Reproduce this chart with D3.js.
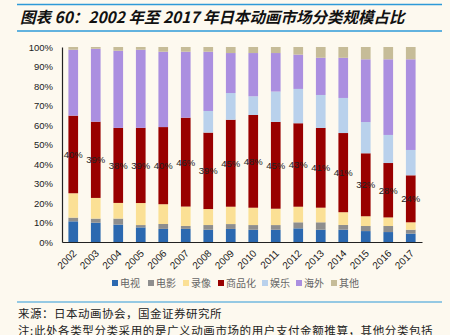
<!DOCTYPE html>
<html><head><meta charset="utf-8">
<script src="https://cdn.jsdelivr.net/npm/d3@7"></script>
<style>
html,body{margin:0;padding:0;background:#FDF9EF;}
svg{display:block;}
</style></head>
<body>
<script>
const years = ["2002","2003","2004","2005","2006","2007","2008","2009","2010","2011","2012","2013","2014","2015","2016","2017"];
const seriesNames = ["电视","电影","录像","商品化","娱乐","海外","其他"];
const tv       = [10.6, 9.9, 8.9, 7.5, 6.7, 6.7, 6.3, 6.7, 6.3, 6.3, 7.0, 6.3, 6.3, 5.6, 5.1, 4.3];
const film     = [1.9, 2.1, 3.1, 1.2, 2.5, 1.5, 2.4, 2.5, 2.4, 2.4, 3.1, 3.8, 2.4, 2.6, 3.1, 2.0];
const video    = [12.5, 10.6, 8.0, 11.3, 10.1, 9.9, 8.2, 8.9, 8.9, 8.4, 8.0, 7.5, 6.5, 5.0, 4.4, 3.8];
const merch    = [39.8, 39.1, 38.4, 38.6, 39.4, 45.4, 39.2, 44.6, 47.6, 44.6, 42.8, 40.9, 40.4, 32.3, 27.9, 24.1];
const ent      = [0, 0, 0, 0, 0, 0, 11.1, 13.7, 9.6, 15.6, 17.6, 16.9, 17.9, 16.0, 14.4, 13.0];
const overseas = [33.8, 37.4, 39.5, 40.1, 38.5, 33.7, 30.4, 20.5, 22.2, 19.8, 17.6, 19.1, 20.5, 32.2, 38.8, 46.5];
const other    = [1.4, 0.9, 1.9, 1.4, 2.4, 2.4, 2.4, 3.1, 3.1, 3.1, 3.9, 5.5, 5.5, 6.3, 6.3, 6.3];
const yTicks = [0,0.1,0.2,0.3,0.4,0.5,0.6,0.7,0.8,0.9,1];
const colors = ["#2C69B0","#8E8E8E","#FBE095","#990000","#B9D1EC","#AB8FE0","#C6BC98"];
const titleText = "图表 60：2002 年至 2017 年日本动画市场分类规模占比";
const sourceText = "来源：日本动画协会，国金证券研究所";
const noteText = "注:此处各类型分类采用的是广义动画市场的用户支付金额推算，其他分类包括";

const seriesArrays = [tv, film, video, merch, ent, overseas, other];
const rows = years.map((y,i)=>{const o={year:y}; seriesNames.forEach((n,k)=>o[n]=seriesArrays[k][i]); return o;});

const W=450,H=335;
const svg=d3.select("body").append("svg").attr("width",W).attr("height",H);
svg.append("rect").attr("width",W).attr("height",H).attr("fill","#FDF9EF");

// title
svg.append("line").attr("x1",17).attr("x2",442).attr("y1",4.5).attr("y2",4.5).attr("stroke","#2E9AD8").attr("stroke-width",1.5);
svg.append("line").attr("x1",17).attr("x2",442).attr("y1",31).attr("y2",31).attr("stroke","#2E9AD8").attr("stroke-width",1.5);
svg.append("text").attr("x",20).attr("y",23).text(titleText)
  .attr("font-family","'Noto Sans CJK SC', Arial, sans-serif").attr("font-size",15.5).attr("font-weight","bold").attr("font-style","italic").attr("fill","#111");

const m={l:62,r:422,t:47,b:242};
const x=d3.scaleBand().domain(years).range([m.l,m.r]).paddingInner(0.57).paddingOuter(0.285);
const y=d3.scaleLinear().domain([0,1]).range([m.b,m.t]);

const stack=d3.stack().keys(seriesNames).offset(d3.stackOffsetExpand);
const stacked=stack(rows);

const g=svg.append("g");
stacked.forEach((s,k)=>{
  g.selectAll(null).data(s).enter().append("rect")
   .attr("x",d=>x(d.data.year)).attr("width",x.bandwidth())
   .attr("y",d=>y(d[1])).attr("height",d=>Math.max(0,y(d[0])-y(d[1])))
   .attr("fill",colors[k]);
});

// labels on merch
const merchStack=stacked[3];
g.selectAll(null).data(merchStack).enter().append("text")
  .attr("x",d=>x(d.data.year)+x.bandwidth()/2).attr("y",d=>y((d[0]+d[1])/2)+3.5)
  .attr("text-anchor","middle").attr("font-family","Arial, 'Liberation Sans', sans-serif").attr("font-size",9.5).attr("fill","#222")
  .text(d=>d3.format(".0%")(d[1]-d[0]));

// y axis
const yAxis=d3.axisLeft(y).tickValues(yTicks).tickFormat(d3.format(".0%")).tickSize(0).tickPadding(9);
const ya=svg.append("g").attr("transform",`translate(${m.l},0)`).call(yAxis);
ya.select(".domain").attr("stroke","#222").attr("stroke-width",1.2);
ya.selectAll("text").attr("font-family","Arial, 'Liberation Sans', sans-serif").attr("font-size",9.5).attr("fill","#222");

// x axis
const xAxis=d3.axisBottom(x).tickSize(0).tickPadding(0);
const xa=svg.append("g").attr("transform",`translate(0,${m.b})`).call(xAxis);
xa.select(".domain").attr("stroke","#222").attr("stroke-width",1.2);
xa.selectAll("text").attr("font-family","Arial, 'Liberation Sans', sans-serif").attr("font-size",10).attr("fill","#222")
  .attr("text-anchor","end").attr("dy",null).attr("y",0)
  .attr("transform","translate(4,12) rotate(-45)");

// legend
const legX=[112,148,183,218,262,296,331];
const leg=svg.append("g");
seriesNames.forEach((n,k)=>{
  leg.append("rect").attr("x",legX[k]).attr("y",280).attr("width",6).attr("height",6).attr("fill",colors[k]);
  leg.append("text").attr("x",legX[k]+8).attr("y",287).text(n)
    .attr("font-family","'Noto Sans CJK SC', sans-serif").attr("font-size",10).attr("fill","#666");
});

// footer
svg.append("line").attr("x1",17).attr("x2",442).attr("y1",302).attr("y2",302).attr("stroke","#2E9AD8").attr("stroke-width",1.2);
svg.append("text").attr("x",18).attr("y",318).text(sourceText)
  .attr("font-family","'Noto Sans CJK SC', sans-serif").attr("font-size",11.5).attr("fill","#222").attr("letter-spacing",0.5);
svg.append("text").attr("x",18).attr("y",335).text(noteText)
  .attr("font-family","'Noto Sans CJK SC', sans-serif").attr("font-size",11.5).attr("fill","#222").attr("letter-spacing",0.6);
</script>
</body></html>
